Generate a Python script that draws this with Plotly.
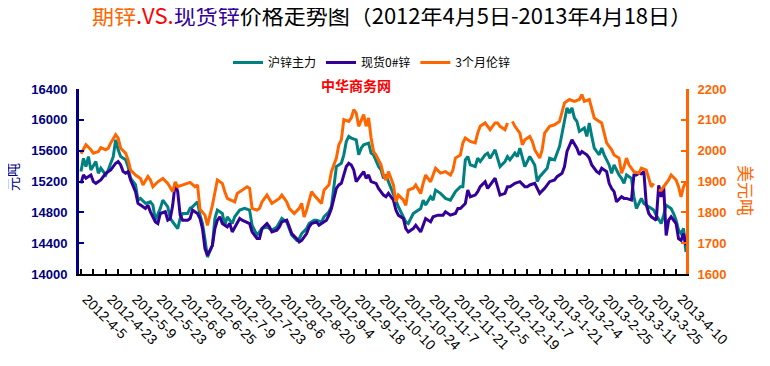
import plotly.graph_objects as go

# tick labels (every 10 trading days)
date_labels = ["2012-4-5", "2012-4-23", "2012-5-9", "2012-5-23", "2012-6-8", "2012-6-25",
               "2012-7-9", "2012-7-23", "2012-8-6", "2012-8-20", "2012-9-4", "2012-9-18",
               "2012-10-10", "2012-10-24", "2012-11-7", "2012-11-21", "2012-12-5", "2012-12-19",
               "2013-1-7", "2013-1-21", "2013-2-4", "2013-2-25", "2013-3-11", "2013-3-25", "2013-4-10"]

# 沪锌主力 (trading-day index, 元/吨)
sh_idx = [0, 1, 2, 3, 4, 6, 7, 8, 10, 11, 12, 13, 14, 15, 16, 18, 19, 20, 22, 23, 24, 26, 28, 29, 30,
          32, 33, 35, 36, 37, 39, 40, 41, 43, 44, 45, 47, 48, 49, 50, 51, 53, 54, 55, 57, 58, 59, 61,
          62, 64, 66, 68, 69, 71, 72, 73, 75, 77, 79, 80, 81, 83, 84, 85, 87, 88, 89, 91, 92, 94, 95,
          97, 98, 100, 101, 102, 103, 105, 106, 107, 108, 109, 111, 112, 113, 114, 116, 117, 118, 120,
          121, 122, 123, 124, 125, 128, 131, 132, 134, 137, 138, 139, 141, 142, 143, 145, 147, 149, 151,
          153, 154, 155, 156, 157, 159, 160, 161, 163, 164, 165, 167, 168, 169, 171, 172, 173, 175, 176,
          177, 179, 180, 181, 183, 184, 185, 187, 188, 189, 191, 193, 194, 195, 196, 197, 198, 199, 200,
          201, 203, 204, 205, 206, 207, 209, 210, 211, 213, 214, 215, 217, 218, 219, 220, 222, 223, 224,
          225, 226, 227, 228, 230, 231, 232, 234, 235, 236, 238, 239, 240, 241, 242, 243, 244]
sh_val = [15330, 15500, 15393, 15524, 15350, 15459, 15307, 15372, 15285, 15350, 15437, 15520, 15741,
          15611, 15524, 15481, 15393, 15242, 15155, 14959, 14981, 14916, 14937, 14894, 14698, 14851,
          14959, 14872, 14720, 14676, 14590, 14720, 14786, 14786, 14851, 14872, 14937, 14763, 14655,
          14450, 14220, 14372, 14720, 14829, 14786, 14633, 14742, 14655, 14742, 14829, 14851, 14829,
          14633, 14503, 14546, 14590, 14611, 14568, 14611, 14676, 14720, 14676, 14590, 14503, 14437,
          14459, 14525, 14590, 14655, 14698, 14698, 14676, 14742, 14807, 14872, 15177, 15393, 15437,
          15546, 15720, 15785, 15763, 15741, 15546, 15633, 15676, 15698, 15568, 15546, 15393, 15350,
          15242, 15285, 15198, 15111, 14872, 14676, 14655, 14785, 14850, 14959, 14894, 15002, 14959,
          15089, 15046, 14981, 14959, 15068, 15133, 15133, 15481, 15524, 15415, 15394, 15502, 15459,
          15546, 15568, 15502, 15611, 15502, 15394, 15459, 15524, 15481, 15568, 15524, 15633, 15394,
          15459, 15524, 15415, 15198, 15263, 15328, 15372, 15502, 15481, 15655, 15828, 16002, 16154,
          16089, 16154, 16024, 15981, 15850, 15894, 15785, 15959, 15785, 15633, 15546, 15633, 15546,
          15415, 15307, 15415, 15285, 15242, 15176, 15285, 15242, 15002, 14850, 14916, 14981, 14916,
          14894, 14850, 14829, 14763, 14655, 14763, 14894, 14850, 14785, 14698, 14568, 14524, 14590,
          14285]

# 现货0#锌 (trading-day index, 元/吨)
spot_idx = [0, 1, 2, 4, 5, 6, 8, 9, 10, 12, 13, 14, 15, 16, 17, 18, 19, 20, 22, 23, 24, 26, 27, 28,
            30, 31, 32, 34, 35, 36, 37, 38, 39, 40, 41, 43, 44, 45, 47, 48, 49, 50, 51, 53, 54, 55, 56,
            57, 59, 60, 61, 63, 64, 65, 67, 68, 69, 71, 72, 73, 75, 76, 77, 79, 80, 81, 83, 84, 85, 87,
            88, 89, 91, 92, 93, 95, 96, 97, 99, 100, 101, 103, 104, 105, 107, 108, 109, 110, 111, 113,
            114, 115, 116, 117, 119, 120, 122, 123, 124, 126, 127, 128, 130, 131, 132, 134, 135, 137,
            138, 139, 141, 142, 144, 146, 147, 149, 151, 152, 153, 155, 156, 157, 159, 160, 161, 163,
            164, 165, 167, 168, 169, 171, 172, 173, 175, 177, 179, 180, 181, 183, 184, 185, 187, 188,
            189, 191, 192, 194, 195, 196, 197, 198, 200, 201, 202, 204, 205, 206, 208, 209, 210, 212,
            213, 214, 215, 216, 218, 219, 220, 222, 223, 224, 225, 226, 227, 228, 229, 230, 231, 232,
            233, 234, 235, 236, 237, 238, 240, 241, 242, 243, 244]
spot_val = [15176, 15285, 15242, 15285, 15198, 15176, 15220, 15263, 15307, 15350, 15394, 15437, 15459,
            15415, 15328, 15307, 15328, 15220, 15068, 14916, 14894, 14850, 14894, 14807, 14676, 14655,
            14785, 14807, 14698, 14720, 14894, 15176, 15068, 14763, 14698, 14698, 14720, 14828, 14785,
            14720, 14590, 14329, 14242, 14372, 14590, 14698, 14742, 14655, 14611, 14655, 14546, 14655,
            14720, 14698, 14676, 14655, 14546, 14459, 14459, 14590, 14655, 14611, 14546, 14568, 14611,
            14676, 14698, 14611, 14524, 14459, 14416, 14437, 14524, 14611, 14655, 14676, 14633, 14655,
            14698, 14763, 14850, 15111, 15155, 15176, 15394, 15437, 15415, 15350, 15198, 15285, 15328,
            15242, 15285, 15198, 15176, 15111, 15024, 15002, 15046, 14959, 14829, 14763, 14720, 14589,
            14546, 14589, 14633, 14546, 14633, 14720, 14676, 14742, 14763, 14763, 14807, 14763, 14785,
            14850, 14850, 14915, 15089, 15002, 15024, 15068, 15133, 15198, 15111, 15155, 15242, 15133,
            15024, 15046, 15133, 15133, 15176, 15198, 15133, 15133, 15155, 15176, 15111, 15046, 15111,
            15155, 15198, 15220, 15263, 15307, 15394, 15589, 15655, 15741, 15633, 15546, 15589, 15546,
            15502, 15415, 15328, 15307, 15372, 15328, 15176, 15111, 15068, 14937, 15002, 14981, 14981,
            14959, 15285, 15285, 15307, 15300, 15328, 14900, 14785, 14742, 14720, 14698, 15150, 15000,
            15130, 14500, 14698, 14742, 14655, 14459, 14437, 14524, 14372]

# 3个月伦锌 (trading-day index, 美元/吨); None = no quote
lme_idx = [0, 2, 4, 5, 7, 8, 10, 11, 12, 14, 15, 16, 18, 19, 20, 22, 24, 25, 27, 28, 29, 31, 33, 35,
           37, 38, 39, 41, 44, 46, 47, 48, 50, 51, 53, 55, 57, 58, 59, 62, 63, 65, 67, 68, 69, 71, 72,
           73, 75, 77, 78, 80, 81, 83, 84, 86, 88, 89, 90, 91, 93, 94, 97, 98, 100, 101, 103, 104, 105,
           106, 108, 109, 110, 111, 112, 114, 115, 116, 117, 118, 119, 121, 122, 123, 124, 126, 127,
           128, 130, 131, 132, 134, 135, 137, 138, 139, 141, 143, 145, 147, 149, 150, 151, 153, 154,
           155, 157, 159, 160, 161, 163, 165, 167, 168, 169, 171, 172, 173, 174, 175, 177, 178, 179,
           181, 182, 183, 185, 186, 187, 189, 191, 193, 195, 196, 197, 199, 201, 202, 203, 205, 206,
           207, 209, 210, 211, 212, 214, 215, 217, 218, 219, 220, 221, 223, 225, 226, 228, 229, 230,
           231, 232, 233, 234, 235, 237, 238, 240, 241, 242, 243, 244]
lme_val = [1990, 2019, 2003, 1992, 1997, 2010, 2003, 2008, 2025, 2052, 2041, 2008, 1992, 1970, 1937,
           1921, 1910, 1889, 1916, 1905, 1883, 1899, 1910, 1894, 1867, 1899, 1883, 1889, 1897, 1883,
           1889, 1810, 1791, 1758, 1823, 1905, 1894, 1867, 1845, 1834, 1861, 1872, 1883, 1878, 1813,
           1807, 1813, 1834, 1856, 1829, 1834, 1845, 1856, 1834, 1813, 1796, 1813, 1829, 1785, 1807,
           1867, 1856, 1829, 1872, 1889, 1932, 1976, 2019, 2035, 2101, 2095, 2106, 2133, 2122, 2079,
           2117, 2079, 2106, 2041, 1997, 1986, 1954, 1921, 1905, 1932, 1889, 1834, 1856, 1840, 1823,
           1872, 1878, 1889, 1861, 1894, 1921, 1899, 1943, 1927, 1932, 1921, 1937, 1976, 1986, 2025,
           2041, 2030, 2025, 2057, 2079, 2090, 2068, 2090, 2090, 2079, 2068, 2090, None, 2095, 2079,
           2057, 2019, 2035, 2046, 2030, 2003, 1976, 2003, 2057, 2079, 2084, 2095, 2155, 2160, 2166,
           2160, 2166, 2182, 2160, 2166, 2133, 2106, 2095, 2090, 2057, 2025, 2003, 1986, 1976, 1927,
           1948, 1976, 1954, 1932, 1927, 1943, 1937, 1910, 1883, 1894, None, 1872, 1872, 1883, 1905,
           1921, 1905, 1883, 1850, 1883, 1899]

left_ticks = [14000, 14400, 14800, 15200, 15600, 16000, 16400]
right_ticks = [1600, 1700, 1800, 1900, 2000, 2100, 2200]

C_SH = "#008080"
C_SPOT = "#330099"
C_LME = "#FF6600"
NAVY = "#000080"

# the page body has an 8px margin, so the figure is 8px smaller and offset
W, H = 762, 358
PL, PW, PB, PH = 79, 607, 274, 185   # plot area in page pixels (left, width, bottom, height)


def px(x):
    return (x - PL) / PW


def py(y):
    return (PB - y) / PH


fig = go.Figure()
fig.add_trace(go.Scatter(x=sh_idx, y=sh_val, name="沪锌主力", mode="lines",
                         line=dict(color=C_SH, width=3), yaxis="y"))
fig.add_trace(go.Scatter(x=spot_idx, y=spot_val, name="现货0#锌", mode="lines",
                         line=dict(color=C_SPOT, width=3), yaxis="y"))
fig.add_trace(go.Scatter(x=lme_idx, y=lme_val, name="3个月伦锌", mode="lines",
                         line=dict(color=C_LME, width=3), yaxis="y2", connectgaps=False))

tickvals = list(range(0, 241, 5))
ticktext = ["\u00a0\u00a0" + date_labels[v // 10] if v % 10 == 0 else "" for v in tickvals]

title_html = ('<span style="color:#FF6600">期锌</span>'
              '<span style="color:#FF0000">.VS.</span>'
              '<span style="color:#330099">现货锌</span>'
              '价格走势图（2012年4月5日-2013年4月18日）')

annotations = [
    dict(text="中华商务网", xref="paper", yref="paper", x=px(356), y=py(85),
         showarrow=False, xanchor="center", yanchor="middle",
         font=dict(size=14, color="#FF0000", family="Noto Sans CJK SC", weight="bold")),
    dict(text="元吨", xref="paper", yref="paper", x=px(12), y=py(177),
         showarrow=False, textangle=-90, xanchor="center", yanchor="middle",
         font=dict(size=14, color=NAVY, family="Noto Sans CJK SC")),
    dict(text="美元吨", xref="paper", yref="paper", x=px(747), y=py(190),
         showarrow=False, textangle=90, xanchor="center", yanchor="middle",
         font=dict(size=17, color=C_LME, family="Noto Sans CJK SC")),
]

fig.update_layout(
    width=W, height=H,
    margin=dict(l=71, r=84, t=81, b=92, autoexpand=False),
    paper_bgcolor="white", plot_bgcolor="white",
    font=dict(family="Noto Sans CJK SC, Arial", color="black"),
    title=dict(text=title_html, xref="container", yref="container",
               x=384 / W, xanchor="center", y=1, yanchor="top", pad=dict(t=1, b=0),
               font=dict(size=22, color="black", family="Noto Sans CJK SC")),
    showlegend=True,
    legend=dict(orientation="h", xref="container", yref="container",
                x=364 / W, xanchor="center", y=1 - 40 / H, yanchor="top",
                font=dict(size=12, color="black", family="Noto Sans CJK SC"),
                bgcolor="rgba(0,0,0,0)", itemwidth=30),
    xaxis=dict(range=[-0.8, 244], tickmode="array", tickvals=tickvals, ticktext=ticktext,
               tickangle=45, tickfont=dict(size=14, color="black", family="Arial"),
               showline=True, linecolor="black", linewidth=2, ticks="inside", ticklen=5,
               tickwidth=1.5, tickcolor="black", showgrid=False, zeroline=False,
               automargin=False, ticklabelstandoff=4),
    yaxis=dict(range=[14000, 16400], tickmode="array", tickvals=left_ticks,
               ticktext=[str(v) for v in left_ticks],
               tickfont=dict(size=13, color=NAVY, family="Arial", weight="bold"),
               showline=True, linecolor=NAVY, linewidth=3, ticks="inside", ticklen=5, tickwidth=2,
               tickcolor=NAVY, showgrid=False, zeroline=False, ticklabelstandoff=6,
               automargin=False),
    yaxis2=dict(range=[1600, 2200], tickmode="array", tickvals=right_ticks,
                ticktext=[str(v) for v in right_ticks],
                overlaying="y", side="right",
                tickfont=dict(size=13, color=C_LME, family="Arial", weight="bold"),
                showline=True, linecolor=C_LME, linewidth=3, ticks="inside", ticklen=5, tickwidth=2,
                tickcolor=C_LME, showgrid=False, zeroline=False, ticklabelstandoff=6,
                automargin=False),
    annotations=annotations,
)

fig.write_html("out.html")
